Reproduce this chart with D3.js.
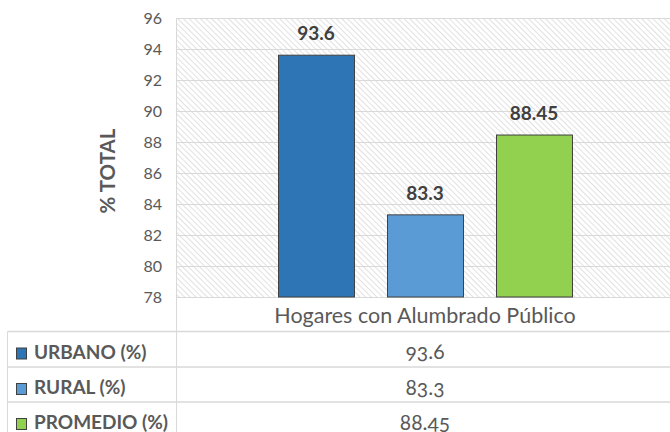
<!DOCTYPE html>
<html>
<head>
<meta charset="utf-8">
<script src="https://cdn.jsdelivr.net/npm/d3@7"></script>
<style>
  html, body { margin: 0; padding: 0; background: #fff; }
  svg { display: block; font-family: Lato, "Open Sans", sans-serif; }
</style>
</head>
<body>
<svg id="chart" width="670" height="432"></svg>
<script>
// ---- data ----
const categories = ["Hogares con Alumbrado Público"];
const seriesNames = ["URBANO (%)", "RURAL (%)", "PROMEDIO (%)"];
const seriesValues = [93.6, 83.3, 88.45];
const seriesColors = ["#2E75B6", "#5B9BD5", "#92D050"];
const yTicks = [78, 80, 82, 84, 86, 88, 90, 92, 94, 96];
const yTitle = "% TOTAL";

const svg = d3.select("#chart");
const W = 670, H = 432;
const plotLeft = 176, plotRight = 674, plotTop = 18, plotBottom = 297;
const rowLines = [331.5, 367, 402];
const tableLeft = 7.5;
const grey = "#595959";
const lineGrey = "#d9d9d9";

// hatch pattern (lines running top-left to bottom-right)
const defs = svg.append("defs");
const pat = defs.append("pattern")
  .attr("id", "hatch").attr("patternUnits", "userSpaceOnUse")
  .attr("width", 4).attr("height", 4)
  .attr("patternTransform", "rotate(-45)");
pat.append("rect").attr("width", 4).attr("height", 4).attr("fill", "#fff");
pat.append("line").attr("x1", 0).attr("y1", 0).attr("x2", 0).attr("y2", 4)
  .attr("stroke", "#d2d2d2").attr("stroke-width", 1.3);

const y = d3.scaleLinear().domain([78, 96]).range([plotBottom, plotTop]);
const x0 = d3.scaleBand().domain(categories).range([plotLeft, plotRight]);
const x1 = d3.scaleBand().domain(seriesNames).range([x0(categories[0]), x0(categories[0]) + x0.bandwidth()])
  .paddingInner(0.303).paddingOuter(0.936);

// plot background
svg.append("rect").attr("x", plotLeft).attr("y", plotTop)
  .attr("width", plotRight - plotLeft).attr("height", plotBottom - plotTop)
  .attr("fill", "url(#hatch)");

// gridlines
svg.append("g").selectAll("line").data(yTicks).join("line")
  .attr("x1", plotLeft).attr("x2", W)
  .attr("y1", d => Math.round(y(d)) + 0.5).attr("y2", d => Math.round(y(d)) + 0.5)
  .attr("stroke", lineGrey).attr("stroke-width", 1);

// y axis labels
const yAxis = d3.axisLeft(y).tickValues(yTicks).tickSize(0).tickPadding(14);
const gy = svg.append("g").attr("transform", `translate(${plotLeft},0)`).call(yAxis);
gy.select(".domain").remove();
gy.selectAll("text").attr("fill", grey).style("font-size", "16px").style("font-family", "Lato, sans-serif");

// y title
svg.append("text")
  .attr("transform", `translate(115,171) rotate(-90)`)
  .attr("text-anchor", "middle")
  .attr("fill", grey).style("font-size", "20.5px").style("font-weight", "bold")
  .text(yTitle);

// bars
const data = seriesNames.map((s, i) => ({ s, v: seriesValues[i], c: seriesColors[i] }));
svg.append("g").selectAll("rect").data(data).join("rect")
  .attr("x", d => x1(d.s) + 0.5)
  .attr("y", d => y(d.v))
  .attr("width", x1.bandwidth())
  .attr("height", d => y(78) - y(d.v))
  .attr("fill", d => d.c)
  .attr("stroke", "#404040").attr("stroke-width", 1);

// value labels
svg.append("g").selectAll("text").data(data).join("text")
  .attr("x", d => x1(d.s) + x1.bandwidth() / 2)
  .attr("y", d => y(d.v) - 15)
  .attr("text-anchor", "middle")
  .attr("fill", "#404040").style("font-size", "19px").style("font-weight", "bold")
  .text(d => d.v);

// table lines
const tg = svg.append("g");
tg.append("line").attr("x1", plotLeft + 0.5).attr("x2", plotLeft + 0.5)
  .attr("y1", plotTop).attr("y2", H).attr("stroke", lineGrey);
tg.append("line").attr("x1", tableLeft).attr("x2", tableLeft)
  .attr("y1", rowLines[0]).attr("y2", H).attr("stroke", lineGrey);
tg.selectAll("line.h").data(rowLines).join("line").attr("class", "h")
  .attr("x1", tableLeft).attr("x2", W)
  .attr("y1", d => d).attr("y2", d => d)
  .attr("stroke", lineGrey).attr("stroke-width", 1.5);
tg.append("line").attr("x1", plotLeft).attr("x2", W)
  .attr("y1", plotTop + 0.5).attr("y2", plotTop + 0.5).attr("stroke", lineGrey);

// category label
svg.append("text").attr("x", x0(categories[0]) + x0.bandwidth() / 2).attr("y", 322.5)
  .attr("text-anchor", "middle").attr("fill", grey).style("font-size", "21.5px")
  .text(categories[0]);

// table rows
const rows = svg.append("g").selectAll("g").data(data).join("g")
  .attr("transform", (d, i) => `translate(0,${rowLines[i]})`);
rows.append("rect").attr("x", 16.5).attr("y", 16.5).attr("width", 10).attr("height", 11)
  .attr("fill", d => d.c).attr("stroke", "#404040").attr("stroke-width", 1);
rows.append("text").attr("x", 34).attr("y", 27)
  .attr("fill", grey).style("font-size", "19px").style("font-weight", "bold")
  .text(d => d.s);
rows.append("text").attr("x", x0(categories[0]) + x0.bandwidth() / 2).attr("y", 27.5)
  .attr("text-anchor", "middle").attr("fill", grey).style("font-size", "21px")
  .style("font-variant-numeric", "oldstyle-nums")
  .text(d => d.v);
</script>
</body>
</html>
